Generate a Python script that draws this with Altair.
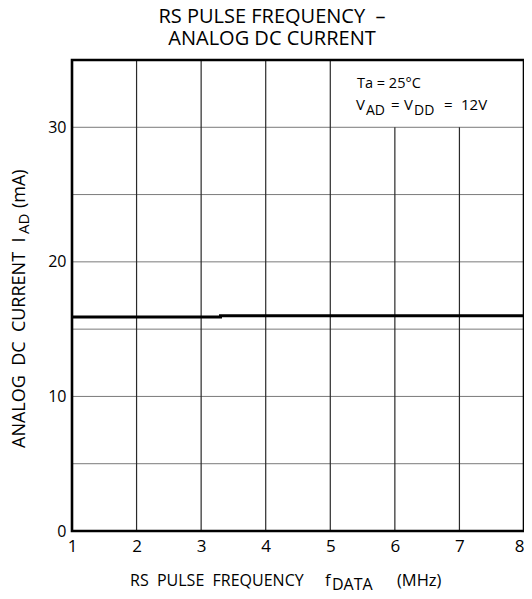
import altair as alt
import pandas as pd

# ---- data ----
freq = [1.0, 3.3, 3.3, 8.0]          # MHz
current = [15.9, 15.9, 16.0, 16.0]    # mA

hgrid_y = [5, 10, 15, 20, 25, 30]
vgrid_x = [2, 3, 4, 5, 6, 7]
vgrid_top = [35, 35, 35, 35, 30, 30]

x_ticks = [1, 2, 3, 4, 5, 6, 7, 8]
y_ticks = [0, 10, 20, 30]

SP = "\u00a0"
title_lines = ["RS PULSE FREQUENCY " + SP + "\u2013", "ANALOG DC CURRENT"]

FONT = "Open Sans"
W, H = 452, 471

xs = alt.Scale(domain=[1, 8], nice=False, zero=False)
ys = alt.Scale(domain=[0, 35], nice=False, zero=False)

hg = pd.DataFrame({"y": hgrid_y, "x1": [1] * len(hgrid_y), "x2": [8] * len(hgrid_y)})
vg = pd.DataFrame({"x": vgrid_x, "y1": [0] * len(vgrid_x), "y2": vgrid_top})
ln = pd.DataFrame({"f": freq, "i": current, "o": list(range(len(freq)))})
frame = pd.DataFrame({"x1": [1], "x2": [8], "y1": [0], "y2": [35]})

hrules = alt.Chart(hg).mark_rule(color="#7a7a7a", strokeWidth=1).encode(
    y=alt.Y("y:Q", scale=ys, axis=alt.Axis(values=y_ticks, title=None, grid=False, ticks=False,
                                          domain=False, labelFont=FONT, labelFontSize=16,
                                          labelColor="black", labelPadding=6, format="d",
                                          labelFlush=False, labelBound=False)),
    x=alt.X("x1:Q", scale=xs, axis=alt.Axis(values=x_ticks, title=None, grid=False, ticks=False,
                                           domain=False, labelFont=FONT, labelFontSize=17,
                                           labelColor="black", labelPadding=7, format="d",
                                           labelFlush=False, labelBound=False,
                                           labelAlign=alt.expr("datum.value == 8 ? 'right' : 'center'"))),
    x2="x2:Q",
)

vrules = alt.Chart(vg).mark_rule(color="#2a2a2a", strokeWidth=1.2).encode(
    x=alt.X("x:Q", scale=xs), y=alt.Y("y1:Q", scale=ys), y2="y2:Q"
)

border = alt.Chart(frame).mark_rect(fillOpacity=0, stroke="black", strokeWidth=2.6).encode(
    x=alt.X("x1:Q", scale=xs), x2="x2:Q", y=alt.Y("y1:Q", scale=ys), y2="y2:Q"
)

line = alt.Chart(ln).mark_line(color="black", strokeWidth=3).encode(
    x=alt.X("f:Q", scale=xs), y=alt.Y("i:Q", scale=ys), order="o:Q"
)


def txt(s, x, y, size=16, angle=0):
    d = pd.DataFrame({"t": [s]})
    return alt.Chart(d).mark_text(font=FONT, fontSize=size, align="left", baseline="alphabetic",
                                  angle=angle, color="black").encode(
        text="t:N", x=alt.value(x), y=alt.value(y))


D = SP + SP
texts = [
    # annotation box
    txt("Ta = 25\u00b0C", 285, 28, 14.5),
    txt("V", 284, 50, 15),
    txt("AD", 294, 55, 14),
    txt("=", 319, 50, 15),
    txt("V", 332, 50, 15),
    txt("DD", 342, 55, 14),
    txt("=", 372, 50, 15),
    txt("12V", 389, 50, 15),
    # x-axis title
    txt("RS" + D + "PULSE" + D + "FREQUENCY", 58, 526, 16),
    txt("f", 253, 526, 16.5),
    txt("DATA", 260, 530, 16),
    txt("(MHz)", 325, 526, 16.5),
    # y-axis title (rotated)
    txt("ANALOG" + D + "DC" + D + "CURRENT" + D + "I", -47, 388, 18, 270),
    txt("AD", -43, 174, 15, 270),
    txt("(mA)", -47, 148, 18, 270),
]

chart = alt.layer(hrules, vrules, line, border, *texts).properties(
    width=W, height=H,
    title=alt.TitleParams(text=title_lines, font=FONT, fontSize=20, fontWeight="normal",
                          color="black", anchor="middle", dx=-26, offset=10, lineHeight=22),
    autosize=alt.AutoSizeParams(type="none"),
    padding={"left": 64, "top": 52, "right": 0, "bottom": 60},
).configure_view(strokeWidth=0).configure(background="white")

chart.save("out.html", embed_options={"renderer": "svg", "actions": False})
